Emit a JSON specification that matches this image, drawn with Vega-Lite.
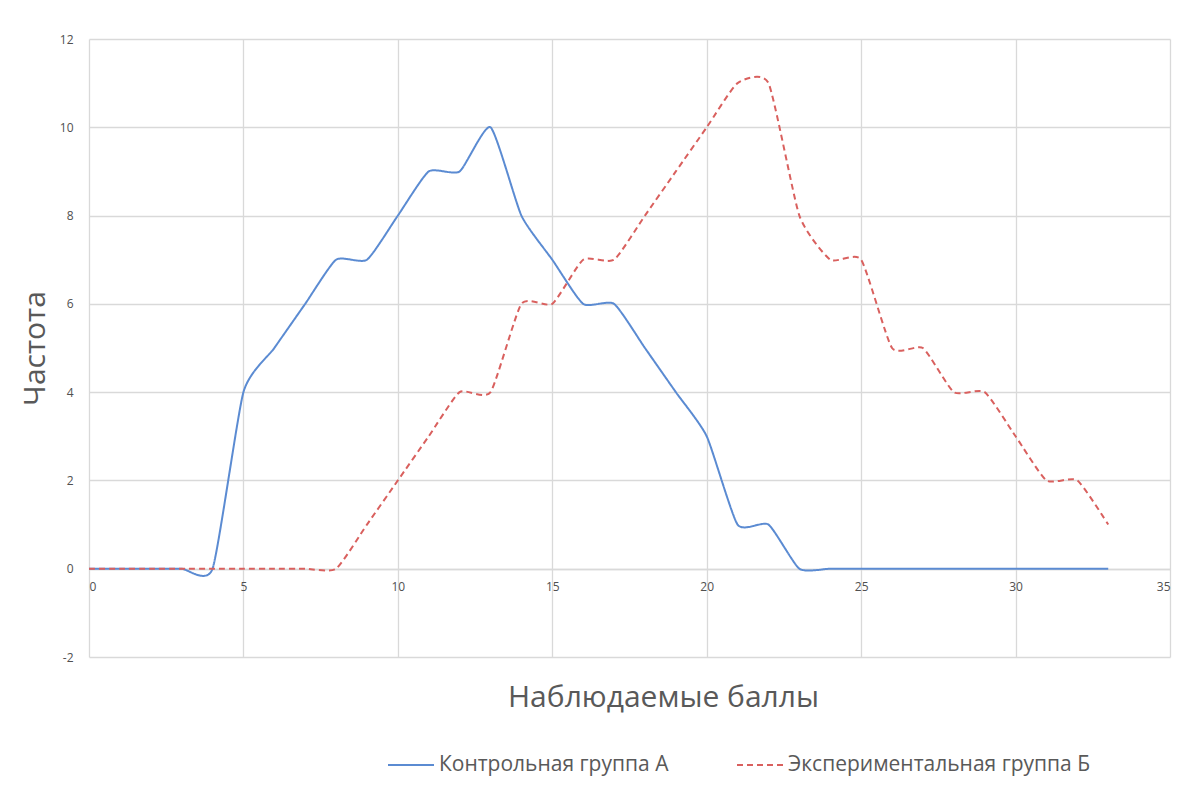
{
  "$schema": "https://vega.github.io/schema/vega-lite/v6.json",
  "width": 1081,
  "height": 618,
  "autosize": {"type": "none"},
  "padding": {"left": 89, "top": 39, "right": 9, "bottom": 129},
  "background": "white",
  "config": {
    "font": "Open Sans",
    "view": {"stroke": null},
    "axis": {"gridColor": "#d9d9d9", "gridWidth": 1.3, "labelColor": "#505050", "titleColor": "#595959", "titleFontWeight": "normal", "labelFontSize": 12, "domain": false, "ticks": false}
  },
  "data": {
    "values": [
      {"x": 0, "y": 0, "g": "Контрольная группа А"},
      {"x": 1, "y": 0, "g": "Контрольная группа А"},
      {"x": 2, "y": 0, "g": "Контрольная группа А"},
      {"x": 3, "y": 0, "g": "Контрольная группа А"},
      {"x": 4, "y": 0, "g": "Контрольная группа А"},
      {"x": 5, "y": 4, "g": "Контрольная группа А"},
      {"x": 6, "y": 5, "g": "Контрольная группа А"},
      {"x": 7, "y": 6, "g": "Контрольная группа А"},
      {"x": 8, "y": 7, "g": "Контрольная группа А"},
      {"x": 9, "y": 7, "g": "Контрольная группа А"},
      {"x": 10, "y": 8, "g": "Контрольная группа А"},
      {"x": 11, "y": 9, "g": "Контрольная группа А"},
      {"x": 12, "y": 9, "g": "Контрольная группа А"},
      {"x": 13, "y": 10, "g": "Контрольная группа А"},
      {"x": 14, "y": 8, "g": "Контрольная группа А"},
      {"x": 15, "y": 7, "g": "Контрольная группа А"},
      {"x": 16, "y": 6, "g": "Контрольная группа А"},
      {"x": 17, "y": 6, "g": "Контрольная группа А"},
      {"x": 18, "y": 5, "g": "Контрольная группа А"},
      {"x": 19, "y": 4, "g": "Контрольная группа А"},
      {"x": 20, "y": 3, "g": "Контрольная группа А"},
      {"x": 21, "y": 1, "g": "Контрольная группа А"},
      {"x": 22, "y": 1, "g": "Контрольная группа А"},
      {"x": 23, "y": 0, "g": "Контрольная группа А"},
      {"x": 24, "y": 0, "g": "Контрольная группа А"},
      {"x": 25, "y": 0, "g": "Контрольная группа А"},
      {"x": 26, "y": 0, "g": "Контрольная группа А"},
      {"x": 27, "y": 0, "g": "Контрольная группа А"},
      {"x": 28, "y": 0, "g": "Контрольная группа А"},
      {"x": 29, "y": 0, "g": "Контрольная группа А"},
      {"x": 30, "y": 0, "g": "Контрольная группа А"},
      {"x": 31, "y": 0, "g": "Контрольная группа А"},
      {"x": 32, "y": 0, "g": "Контрольная группа А"},
      {"x": 33, "y": 0, "g": "Контрольная группа А"},
      {"x": 0, "y": 0, "g": "Экспериментальная группа Б"},
      {"x": 1, "y": 0, "g": "Экспериментальная группа Б"},
      {"x": 2, "y": 0, "g": "Экспериментальная группа Б"},
      {"x": 3, "y": 0, "g": "Экспериментальная группа Б"},
      {"x": 4, "y": 0, "g": "Экспериментальная группа Б"},
      {"x": 5, "y": 0, "g": "Экспериментальная группа Б"},
      {"x": 6, "y": 0, "g": "Экспериментальная группа Б"},
      {"x": 7, "y": 0, "g": "Экспериментальная группа Б"},
      {"x": 8, "y": 0, "g": "Экспериментальная группа Б"},
      {"x": 9, "y": 1, "g": "Экспериментальная группа Б"},
      {"x": 10, "y": 2, "g": "Экспериментальная группа Б"},
      {"x": 11, "y": 3, "g": "Экспериментальная группа Б"},
      {"x": 12, "y": 4, "g": "Экспериментальная группа Б"},
      {"x": 13, "y": 4, "g": "Экспериментальная группа Б"},
      {"x": 14, "y": 6, "g": "Экспериментальная группа Б"},
      {"x": 15, "y": 6, "g": "Экспериментальная группа Б"},
      {"x": 16, "y": 7, "g": "Экспериментальная группа Б"},
      {"x": 17, "y": 7, "g": "Экспериментальная группа Б"},
      {"x": 18, "y": 8, "g": "Экспериментальная группа Б"},
      {"x": 19, "y": 9, "g": "Экспериментальная группа Б"},
      {"x": 20, "y": 10, "g": "Экспериментальная группа Б"},
      {"x": 21, "y": 11, "g": "Экспериментальная группа Б"},
      {"x": 22, "y": 11, "g": "Экспериментальная группа Б"},
      {"x": 23, "y": 8, "g": "Экспериментальная группа Б"},
      {"x": 24, "y": 7, "g": "Экспериментальная группа Б"},
      {"x": 25, "y": 7, "g": "Экспериментальная группа Б"},
      {"x": 26, "y": 5, "g": "Экспериментальная группа Б"},
      {"x": 27, "y": 5, "g": "Экспериментальная группа Б"},
      {"x": 28, "y": 4, "g": "Экспериментальная группа Б"},
      {"x": 29, "y": 4, "g": "Экспериментальная группа Б"},
      {"x": 30, "y": 3, "g": "Экспериментальная группа Б"},
      {"x": 31, "y": 2, "g": "Экспериментальная группа Б"},
      {"x": 32, "y": 2, "g": "Экспериментальная группа Б"},
      {"x": 33, "y": 1, "g": "Экспериментальная группа Б"}
    ]
  },
  "mark": {"type": "line", "interpolate": "cardinal", "tension": 0.45, "strokeWidth": 2},
  "encoding": {
    "x": {
      "field": "x", "type": "quantitative",
      "scale": {"domain": [0, 35], "nice": false, "zero": false},
      "axis": {"values": [0, 5, 10, 15, 20, 25, 30, 35], "offset": -88, "labelPadding": 12, "title": "Наблюдаемые баллы", "titleFontSize": 30, "titleX": 574, "titleAlign": "center", "titleY": 128, "titleBaseline": "middle", "gridColor": "#d9d9d9", "domain": true, "domainColor": "#d9d9d9", "domainWidth": 1.3}
    },
    "y": {
      "field": "y", "type": "quantitative",
      "scale": {"domain": [-2, 12], "nice": false, "zero": false},
      "axis": {"values": [-2, 0, 2, 4, 6, 8, 10, 12], "labelExpr": "datum.value < 0 ? '-' + abs(datum.value) : '' + datum.value", "labelPadding": 16, "title": "Частота", "titleFontSize": 30, "titleX": -54, "titleY": 309, "titleAlign": "center", "titleBaseline": "middle", "titleAngle": -90}
    },
    "color": {
      "field": "g", "type": "nominal",
      "scale": {"domain": ["Контрольная группа А", "Экспериментальная группа Б"], "range": ["#5b8bd2", "#d9605e"]},
      "legend": {"title": null, "orient": "none", "legendX": 298, "legendY": 702, "direction": "horizontal", "columns": 2, "symbolType": "stroke", "symbolSize": 2116, "symbolStrokeWidth": 2, "labelFontSize": 21, "labelLimit": 0, "labelColor": "#595959", "columnPadding": 64, "labelOffset": 4}
    },
    "strokeDash": {
      "field": "g", "type": "nominal",
      "scale": {"domain": ["Контрольная группа А", "Экспериментальная группа Б"], "range": [[1, 0], [6, 4]]},
      "legend": {"title": null, "orient": "none", "legendX": 298, "legendY": 702, "direction": "horizontal", "columns": 2, "symbolType": "stroke", "symbolSize": 2116, "symbolStrokeWidth": 2, "labelFontSize": 21, "labelLimit": 0, "labelColor": "#595959", "columnPadding": 64, "labelOffset": 4}
    }
  }
}
